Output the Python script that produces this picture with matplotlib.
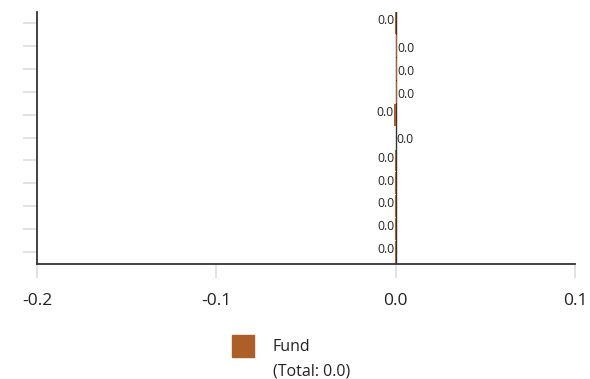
import matplotlib.pyplot as plt
import numpy as np

plt.rcParams["font.family"] = ["Open Sans", "DejaVu Sans"]

# Data (top to bottom)
categories = ["C1", "C2", "C3", "C4", "C5", "C6", "C7", "C8", "C9", "C10", "C11"]
values = [-0.0004, 0.0005, 0.0005, 0.0005, -0.0008, 0.0003, -0.0004, -0.0004, -0.0004, -0.0004, -0.0004]
series_name = "Fund"
bar_color = "#AD5F29"

fig = plt.figure(figsize=(5.9, 3.79), dpi=100)
ax = fig.add_axes([37 / 590, 1 - 264 / 379, (575 - 37) / 590, (264 - 12) / 379])

y = np.arange(len(categories))[::-1]
ax.barh(y, values, height=0.95, color=bar_color, zorder=2)
ax.axvline(0, color="#333333", lw=1.0, zorder=1)

for yi, v in zip(y, values):
    if v < 0:
        ax.text(v - 0.0003, yi + 0.1, "0.0", ha="right", va="center", fontsize=8.8, color="#222222")
    else:
        ax.text(v + 0.0003, yi - 0.1, "0.0", ha="left", va="center", fontsize=8.8, color="#222222")

ax.set_xlim(-0.2, 0.1)
ax.set_ylim(-0.52, 10.48)
ax.set_xticks([-0.2, -0.1, 0.0, 0.1])
ax.set_xticklabels(["-0.2", "-0.1", "0.0", "0.1"])
ax.set_yticks(y)
ax.set_yticklabels([])
ax.tick_params(axis="x", length=10, width=1.2, color="#dddddd", labelsize=12.5, labelcolor="#222222", pad=11)
ax.tick_params(axis="y", length=10, width=1.2, color="#dddddd")

for side in ["top", "right"]:
    ax.spines[side].set_visible(False)
for side in ["left", "bottom"]:
    ax.spines[side].set_color("#333333")
    ax.spines[side].set_linewidth(1.3)

# Legend
fig.patches.append(plt.Rectangle((232 / 590, 1 - 357 / 379), 22 / 590, 22 / 379,
                                 transform=fig.transFigure, color=bar_color))
fig.text(273 / 590, 1 - 347 / 379, series_name, ha="left", va="center",
         fontsize=11.5, color="#222222")
fig.text(273 / 590, 1 - 372 / 379, "(Total: 0.0)", ha="left", va="center",
         fontsize=11.5, color="#222222")

fig.savefig("out.png", dpi=100)
